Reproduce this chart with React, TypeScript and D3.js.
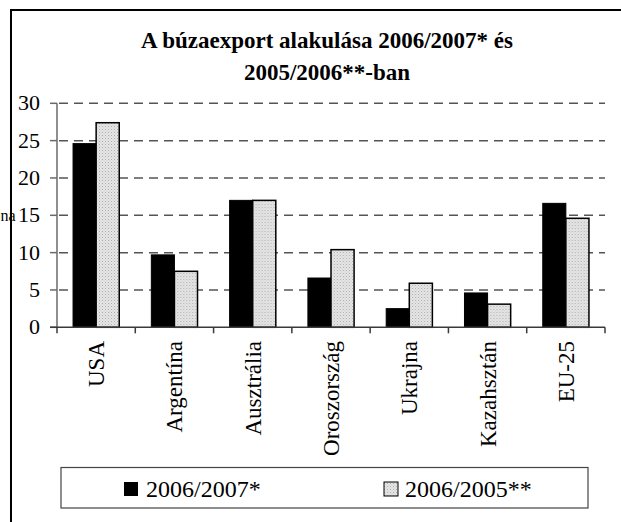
import React from "react";
import * as d3 from "d3";

const categories = ["USA", "Argentína", "Ausztrália", "Oroszország", "Ukrajna", "Kazahsztán", "EU-25"];
const series1Name = "2006/2007*";
const series2Name = "2006/2005**";
const series1 = [24.6, 9.7, 17.0, 6.6, 2.5, 4.6, 16.6];
const series2 = [27.4, 7.5, 17.0, 10.4, 5.9, 3.1, 14.6];
const yTicks = [0, 5, 10, 15, 20, 25, 30];
const titleLines = ["A búzaexport alakulása 2006/2007* és", "2005/2006**-ban"];
const yAxisTitle = "na";

const W = 621;
const H = 522;
const FONT = "'Liberation Serif', 'Times New Roman', serif";

export default function App() {
  const x0 = d3.scaleBand<string>().domain(categories).range([57, 605]).padding(0);
  const bw = x0.bandwidth();
  const pad = bw * 0.205;
  const x1 = d3.scaleBand<string>().domain(["s1", "s2"]).range([pad, bw - pad]).padding(0);
  const y = d3.scaleLinear().domain([0, 30]).range([327.3, 103.3]);
  const y0 = y(0);
  const tickEdges = d3.range(categories.length + 1).map((i) => 57 + i * bw);

  return (
    <svg
      width={W}
      height={H}
      style={{ position: "absolute", left: 0, top: 0, background: "#fff" }}
      fontFamily={FONT}
    >
      <defs>
        <pattern id="dots" width="3" height="3" patternUnits="userSpaceOnUse">
          <rect width="3" height="3" fill="#e6e6e6" />
          <rect x="0" y="0" width="1" height="1" fill="#acacac" />
          <rect x="1.5" y="1.5" width="1" height="1" fill="#c2c2c2" />
        </pattern>
      </defs>
      <rect x={0} y={0} width={W} height={H} fill="#fff" />
      {/* chart frame */}
      <rect x={11} y={10} width={700} height={700} fill="none" stroke="#000" strokeWidth={2} />

      {/* title */}
      {titleLines.map((t, i) => (
        <text
          key={i}
          x={327}
          y={48 + i * 32}
          textAnchor="middle"
          fontWeight="bold"
          fontSize={23}
          fill="#000"
        >
          {t}
        </text>
      ))}

      {/* gridlines */}
      {yTicks.filter((t) => t > 0).map((t) => (
        <line
          key={t}
          x1={57}
          x2={605}
          y1={y(t)}
          y2={y(t)}
          stroke="#555"
          strokeWidth={1.5}
          strokeDasharray="9,6"
          strokeDashoffset={-2}
        />
      ))}

      {/* y ticks and labels */}
      {yTicks.map((t) => (
        <g key={t}>
          <line x1={50} x2={57} y1={y(t)} y2={y(t)} stroke="#6a6a6a" strokeWidth={1.5} />
          <text x={40} y={y(t) + 7} textAnchor="end" fontSize={22} fill="#000">
            {t}
          </text>
        </g>
      ))}
      <text x={0.5} y={y(15) + 6} textAnchor="start" fontSize={16} fill="#000">
        {yAxisTitle}
      </text>

      {/* bars */}
      {categories.map((c, i) => (
        <g key={c} transform={`translate(${x0(c)},0)`}>
          <rect
            x={x1("s1")}
            y={y(series1[i])}
            width={x1.bandwidth()}
            height={y0 - y(series1[i])}
            fill="#000"
            stroke="#000"
            strokeWidth={1}
          />
          <rect
            x={x1("s2")}
            y={y(series2[i])}
            width={x1.bandwidth()}
            height={y0 - y(series2[i])}
            fill="url(#dots)"
            stroke="#000"
            strokeWidth={1.5}
          />
        </g>
      ))}

      {/* axes */}
      <line x1={57} x2={57} y1={y(30)} y2={y0} stroke="#6a6a6a" strokeWidth={1.5} />
      <line x1={50} x2={605} y1={y0} y2={y0} stroke="#3a3a3a" strokeWidth={1.5} />
      {tickEdges.map((tx, i) => (
        <line key={i} x1={tx} x2={tx} y1={y0} y2={y0 + 6} stroke="#3a3a3a" strokeWidth={1.5} />
      ))}

      {/* category labels */}
      {categories.map((c) => {
        const cx = (x0(c) as number) + bw / 2;
        return (
          <text
            key={c}
            transform={`translate(${cx + 8},341) rotate(-90)`}
            textAnchor="end"
            fontSize={23}
            fill="#000"
          >
            {c}
          </text>
        );
      })}

      {/* legend */}
      <rect x={61} y={467.5} width={527} height={40.5} fill="#fff" stroke="#444" strokeWidth={1.2} />
      <rect x={124} y={482} width={14} height={14} fill="#000" />
      <text x={146} y={497} fontSize={24} fill="#000">
        {series1Name}
      </text>
      <rect x={384} y={482} width={14} height={14} fill="url(#dots)" stroke="#000" strokeWidth={1} />
      <text x={405} y={497} fontSize={24} fill="#000">
        {series2Name}
      </text>
    </svg>
  );
}
